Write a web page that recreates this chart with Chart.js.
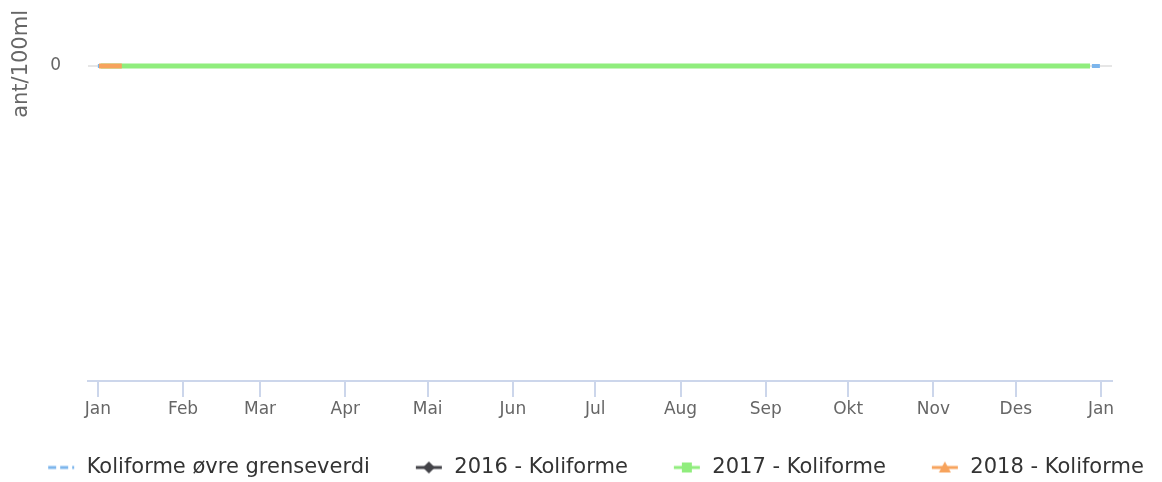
<!DOCTYPE html>
<html>
<head>
<meta charset="utf-8">
<script src="https://cdn.jsdelivr.net/npm/chart.js@4.4.1/dist/chart.umd.min.js"></script>
<style>
  body { margin: 0; background: #fff; }
  #wrap { width: 1162px; height: 482px; position: relative; }
</style>
</head>
<body>
<div id="wrap"><canvas id="chart"></canvas></div>
<script>
// day-of-year positions for month ticks
const monthStarts = [0, 31, 59, 90, 120, 151, 181, 212, 243, 273, 304, 334, 365];
const monthLabels = ['Jan', 'Feb', 'Mar', 'Apr', 'Mai', 'Jun', 'Jul', 'Aug', 'Sep', 'Okt', 'Nov', 'Des', 'Jan'];

const seriesNames = ['Koliforme øvre grenseverdi', '2016 - Koliforme', '2017 - Koliforme', '2018 - Koliforme'];

const limitDays = [0, 365];
const limitValues = [0, 0];

const days2016 = [];
const values2016 = [];

const days2017 = [1, 15, 36, 64, 92, 120, 148, 176, 204, 232, 260, 288, 316, 344, 361];
const values2017 = [0, 0, 0, 0, 0, 0, 0, 0, 0, 0, 0, 0, 0, 0, 0];

const days2018 = [0.4, 8.7];
const values2018 = [0, 0];

const toPoints = (xs, ys) => xs.map((x, i) => ({ x, y: ys[i] }));

// legend symbols: line + marker, with empty space on the left as item spacing
function legendSymbol(color, marker, dashed) {
  const c = document.createElement('canvas');
  c.width = 58;
  c.height = 20;
  const g = c.getContext('2d');
  g.strokeStyle = color;
  g.fillStyle = color;
  g.lineWidth = 3;
  if (dashed) g.setLineDash([8, 4]);
  g.beginPath();
  g.moveTo(30, 10);
  g.lineTo(56, 10);
  g.stroke();
  g.setLineDash([]);
  const cx = 43, cy = 10;
  g.beginPath();
  if (marker === 'diamond') {
    g.moveTo(cx, cy - 6); g.lineTo(cx + 6, cy); g.lineTo(cx, cy + 6); g.lineTo(cx - 6, cy);
  } else if (marker === 'square') {
    g.rect(cx - 5, cy - 5, 10, 10);
  } else if (marker === 'triangle') {
    g.moveTo(cx, cy - 6); g.lineTo(cx + 6, cy + 5); g.lineTo(cx - 6, cy + 5);
  }
  g.closePath();
  if (marker) g.fill();
  return c;
}

const symbols = [
  legendSymbol('#7cb5ec', null, true),
  legendSymbol('#434348', 'diamond', false),
  legendSymbol('#90ed7d', 'square', false),
  legendSymbol('#f7a35c', 'triangle', false),
];

const ctx = document.getElementById('chart');

new Chart(ctx, {
  type: 'line',
  data: {
    datasets: [
      {
        label: seriesNames[0],
        data: toPoints(limitDays, limitValues),
        borderColor: '#7cb5ec',
        borderWidth: 4,
        borderDash: [8, 6],
        pointRadius: 0,
        order: 4,
      },
      {
        label: seriesNames[1],
        data: toPoints(days2016, values2016),
        borderColor: '#434348',
        borderWidth: 4,
        pointRadius: 0,
        order: 3,
      },
      {
        label: seriesNames[2],
        data: toPoints(days2017, values2017),
        borderColor: '#90ed7d',
        borderWidth: 5,
        pointRadius: 0,
        order: 2,
      },
      {
        label: seriesNames[3],
        data: toPoints(days2018, values2018),
        borderColor: '#f7a35c',
        borderWidth: 5,
        pointRadius: 0,
        order: 1,
      },
    ],
  },
  options: {
    responsive: true,
    maintainAspectRatio: false,
    animation: false,
    layout: { padding: { top: 10, right: 0, bottom: -6, left: 0 } },
    plugins: {
      tooltip: { enabled: false },
      legend: {
        position: 'bottom',
        labels: {
          usePointStyle: true,
          pointStyleWidth: 58,
          padding: 16,
          color: '#333333',
          font: { family: 'DejaVu Sans', size: 21 },
          sort: (a, b) => a.datasetIndex - b.datasetIndex,
          generateLabels: (chart) =>
            chart.data.datasets.map((ds, i) => ({
              text: ds.label,
              pointStyle: symbols[i],
              datasetIndex: i,
              hidden: false,
              fontColor: '#333333',
              lineWidth: 0,
            })),
        },
      },
    },
    scales: {
      x: {
        type: 'linear',
        min: -3.6,
        max: 369,
        afterBuildTicks: (scale) => {
          scale.ticks = monthStarts.map((v) => ({ value: v }));
        },
        afterFit: (scale) => {
          scale.height = 60;
        },
        grid: {
          drawOnChartArea: false,
          drawTicks: true,
          tickLength: 16,
          color: '#ccd6eb',
          lineWidth: 2,
        },
        border: { color: '#ccd6eb', width: 2 },
        ticks: {
          autoSkip: false,
          maxRotation: 0,
          padding: 2,
          color: '#666666',
          font: { family: 'DejaVu Sans', size: 17 },
          callback: (value, index) => monthLabels[index],
        },
      },
      y: {
        min: -1,
        max: 0.1778,
        afterBuildTicks: (scale) => {
          scale.ticks = [{ value: 0 }];
        },
        afterFit: (scale) => {
          scale.width = 88;
          scale.paddingTop = 0;
          scale.paddingBottom = 0;
        },
        grid: {
          drawTicks: false,
          color: '#e6e6e6',
          lineWidth: 2,
        },
        border: { display: false },
        ticks: {
          padding: 27,
          color: '#666666',
          font: { family: 'DejaVu Sans', size: 17 },
        },
        title: {
          display: true,
          text: 'ant/100ml',
          align: 'end',
          color: '#666666',
          padding: { top: 9 },
          font: { family: 'DejaVu Sans', size: 21 },
        },
      },
      // empty right-hand axis that only reserves the right margin
      y2: {
        axis: 'y',
        position: 'right',
        grid: { display: false },
        border: { display: false },
        ticks: { display: false },
        afterFit: (scale) => {
          scale.width = 50;
          scale.paddingTop = 0;
          scale.paddingBottom = 0;
        },
      },
    },
  },
});
</script>
</body>
</html>
